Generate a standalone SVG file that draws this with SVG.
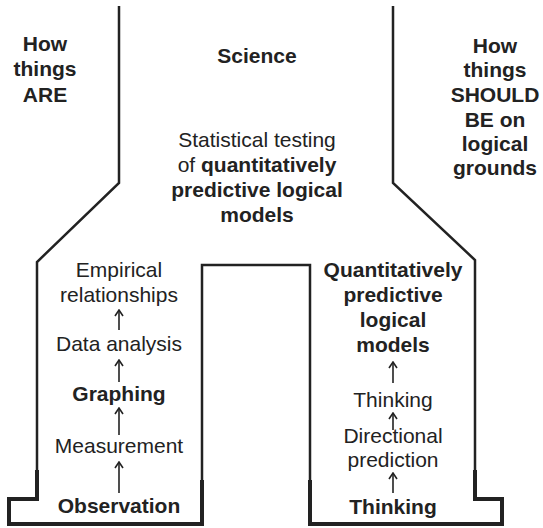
<svg xmlns="http://www.w3.org/2000/svg" width="543" height="528" viewBox="0 0 543 528">
  <style>
    text { font-family: "Liberation Sans", Arial, Helvetica, sans-serif; font-size: 21px; fill: #222; text-anchor: middle; }
    .b { font-weight: bold; }
    .outline { fill: none; stroke: #222; stroke-width: 2.5; stroke-linejoin: miter; }
    .base { fill: none; stroke: #222; stroke-width: 4; stroke-linejoin: miter; }
    .arrow { fill: none; stroke: #222; stroke-width: 1.6; marker-end: url(#head); }
  </style>
  <defs>
    <!-- open chevron head, drawn along +x so orient="auto" points it up the line -->
    <marker id="head" viewBox="0 0 10 10" refX="9" refY="5" markerWidth="10" markerHeight="10" markerUnits="userSpaceOnUse" orient="auto">
      <path d="M3,1 L9,5 L3,9" fill="none" stroke="#222" stroke-width="1.6"/>
    </marker>
  </defs>

  <!-- flask-shaped outline -->
  <g id="outline">
    <path class="outline" d="M119,6 V183 L37,262 V499 H9 V524 H202 V265 H310 V524 H502 V499 H475 V260 L393,183 V6"/>
    <path class="base" d="M37,470 V499 H9 V524 H202 V480"/>
    <path class="base" d="M310,480 V524 H502 V499 H475 V470"/>
  </g>

  <!-- side headings -->
  <g id="how-things-are">
    <text class="b" x="45" y="51">How</text>
    <text class="b" x="45" y="76">things</text>
    <text class="b" x="45" y="102">ARE</text>
  </g>
  <g id="how-things-should-be">
    <text class="b" x="495" y="53">How</text>
    <text class="b" x="495" y="77">things</text>
    <text class="b" x="495" y="102">SHOULD</text>
    <text class="b" x="495" y="127">BE on</text>
    <text class="b" x="495" y="151">logical</text>
    <text class="b" x="495" y="175">grounds</text>
  </g>

  <!-- centre column -->
  <g id="science">
    <text class="b" x="257" y="63">Science</text>
  </g>
  <g id="statistical-testing">
    <text x="257" y="147">Statistical testing</text>
    <text x="257" y="172">of <tspan class="b">quantitatively</tspan></text>
    <text class="b" x="257" y="197">predictive logical</text>
    <text class="b" x="257" y="222">models</text>
  </g>

  <!-- empirical column -->
  <g id="empirical-relationships">
    <text x="119" y="277">Empirical</text>
    <text x="119" y="302">relationships</text>
  </g>
  <g id="data-analysis">
    <text x="119" y="351">Data analysis</text>
  </g>
  <g id="graphing">
    <text class="b" x="119" y="401">Graphing</text>
  </g>
  <g id="measurement">
    <text x="119" y="453">Measurement</text>
  </g>
  <g id="observation">
    <text class="b" x="119" y="513">Observation</text>
  </g>

  <!-- logical column -->
  <g id="models">
    <text class="b" x="393" y="277">Quantitatively</text>
    <text class="b" x="393" y="302">predictive</text>
    <text class="b" x="393" y="327">logical</text>
    <text class="b" x="393" y="352">models</text>
  </g>
  <g id="thinking-upper">
    <text x="393" y="407">Thinking</text>
  </g>
  <g id="directional-prediction">
    <text x="393" y="443">Directional</text>
    <text x="393" y="467">prediction</text>
  </g>
  <g id="thinking-lower">
    <text class="b" x="393" y="514">Thinking</text>
  </g>

  <!-- connectors -->
  <g id="connectors">
    <path class="arrow" d="M119,330 V310"/>
    <path class="arrow" d="M119,382 V360"/>
    <path class="arrow" d="M119,435 V408"/>
    <path class="arrow" d="M119,493 V462"/>
    <path class="arrow" d="M393,383 V362"/>
    <path class="arrow" d="M393,430 V413"/>
    <path class="arrow" d="M393,493 V473"/>
  </g>
</svg>
